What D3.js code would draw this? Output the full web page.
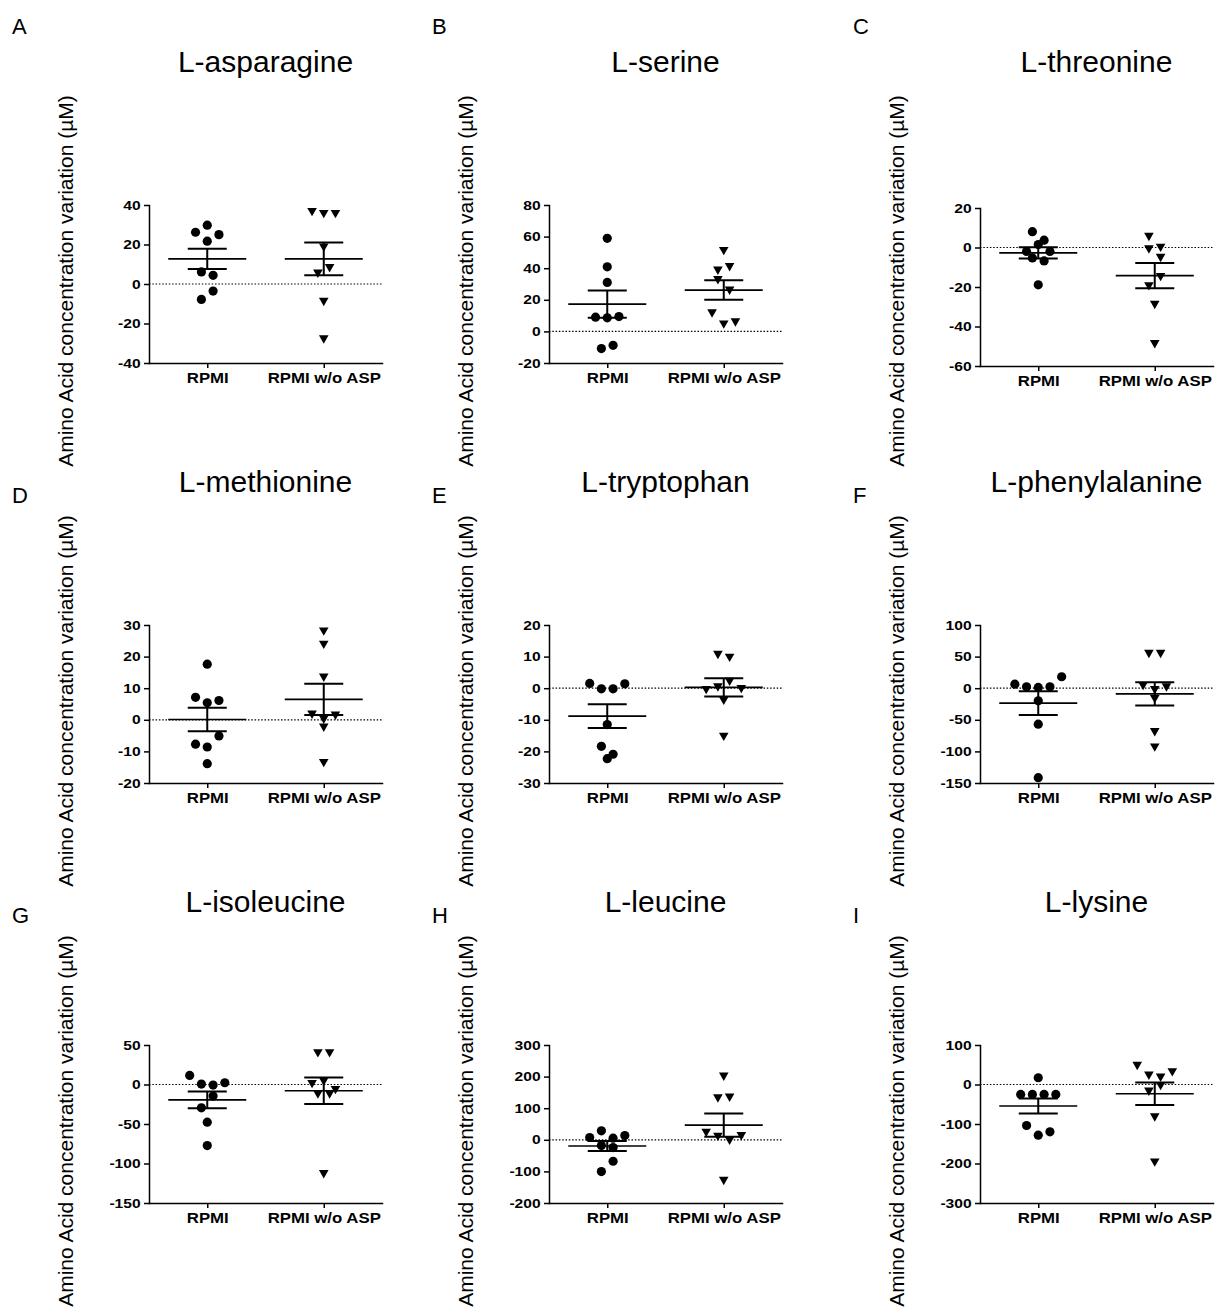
<!DOCTYPE html>
<html>
<head>
<meta charset="utf-8">
<title>Amino acid variation</title>
<style>
    body { margin: 0; background: #fff; }
    svg text { font-family: "Liberation Sans", Arial, sans-serif; fill: #000; }
    .title { font-size: 30px; }
    .letter { font-size: 22px; }
    .ylabel { font-size: 21px; }
    .axis text { font-size: 13px; font-weight: bold; }
    .axis.x text { font-size: 14px; }
    .axis path, .axis line { stroke: #000; stroke-width: 1.5px; }
</style>
</head>
<body>
<script src="https://d3js.org/d3.v7.min.js"></script>
<script>
// categories and panel texts
var groups = ["RPMI", "RPMI w/o ASP"];
var letters = ["A", "B", "C", "D", "E", "F", "G", "H", "I"];
var titles = ["L-asparagine", "L-serine", "L-threonine",
              "L-methionine", "L-tryptophan", "L-phenylalanine",
              "L-isoleucine", "L-leucine", "L-lysine"];
var yLabel = "Amino Acid concentration variation (\u00b5M)";

// y axis domain and tick labels per panel
var yDomains = [[-40, 40], [-20, 80], [-60, 20],
                [-20, 30], [-30, 20], [-150, 100],
                [-150, 50], [-200, 300], [-300, 100]];
var yTicks = [[-40, -20, 0, 20, 40], [-20, 0, 20, 40, 60, 80], [-60, -40, -20, 0, 20],
              [-20, -10, 0, 10, 20, 30], [-30, -20, -10, 0, 10, 20], [-150, -100, -50, 0, 50, 100],
              [-150, -100, -50, 0, 50], [-200, -100, 0, 100, 200, 300], [-300, -200, -100, 0, 100]];

// individual values, RPMI group
var rpmi = [
    [26.2, 29.8, 25.0, 21.7, 6.1, 4.4, -7.8, -3.6],
    [58.9, 40.9, 31.0, 9.0, 8.6, 9.4, -10.9, -8.8],
    [8.0, 3.7, -2.0, 1.5, -2.0, -5.3, -6.8, -18.9],
    [17.6, 7.1, 5.4, 6.1, -7.7, -8.6, -5.1, -13.9],
    [1.5, -0.2, -0.2, 1.4, -11.5, -22.3, -18.4, -20.9],
    [6.4, 2.2, 1.2, 2.2, 18.1, -20.0, -57.0, -141.5],
    [11.5, 0.5, -0.7, 2.2, -29.5, -14.7, -47.7, -77.3],
    [7.2, 28.3, 5.1, 13.5, -18.2, -24.5, -100.6, -67.9],
    [17.1, -25.2, -25.2, -25.2, -25.2, -103.8, -128.3, -119.9]
];

// RPMI w/o ASP group
var noAsp = [
    [36.4, 35.4, 35.4, 18.4, 5.2, 8.0, -9.1, -28.1],
    [50.8, 38.4, 40.6, 32.4, 25.7, 11.3, 4.3, 5.6],
    [5.3, -0.2, -1.0, -5.3, -19.7, -15.0, -29.1, -49.0],
    [27.9, 23.7, 13.3, 1.6, 0.0, 1.3, -2.5, -13.7],
    [10.5, 9.6, -0.6, 0.2, 2.0, -0.3, -4.0, -15.4],
    [54.0, 54.0, 3.3, -3.1, 1.2, -17.3, -69.7, -94.0],
    [39.4, 39.4, 0.5, 3.5, -7.1, -12.6, -12.6, -113.6],
    [199.6, 130.9, 133.0, 22.0, 9.3, -3.4, 11.4, -130.2],
    [46.7, 22.2, 17.1, 30.7, -18.4, -4.0, -83.5, -197.7]
];

var width = 1222, height = 1311;
var plotW = 233, plotH = 158;
var colX = [149, 549, 980];
var letterX = [12, 432, 853];
var letterY = [34, 503, 923];

var svg = d3.select("body").append("svg")
    .attr("width", width)
    .attr("height", height);

// spread points of similar value side by side, rows centred like Prism does
function spread(values, y) {
    var order = values.map(function(v, k) { return k; })
        .sort(function(a, b) { return values[b] - values[a]; });
    var rows = [], cur = null;
    order.forEach(function(k) {
        if (cur && y(values[k]) - y(values[cur[0]]) < 12) cur.push(k);
        else { cur = [k]; rows.push(cur); }
    });
    var off = [];
    rows.forEach(function(r) {
        r.sort(d3.ascending);
        r.forEach(function(k, j) { off[k] = (j - (r.length - 1) / 2) * 11.7; });
    });
    return off;
}

titles.forEach(function(t, i) {
    var col = i % 3, row = Math.floor(i / 3);
    var left = colX[col], top = 205 + row * 420 + (i === 2 ? 3 : 0);

    svg.append("text").attr("class", "letter")
        .attr("x", letterX[col]).attr("y", letterY[row])
        .text(letters[i]);

    svg.append("text").attr("class", "title")
        .attr("x", left + plotW / 2).attr("y", 72 + row * 420)
        .attr("text-anchor", "middle")
        .text(t);

    svg.append("text").attr("class", "ylabel")
        .attr("transform", "translate(" + (left - 76) + "," + (281 + row * 420) + ") rotate(-90)")
        .attr("text-anchor", "middle")
        .text(yLabel);

    var g = svg.append("g").attr("transform", "translate(" + left + "," + top + ")");

    var y = d3.scaleLinear().domain(yDomains[i]).range([plotH, 0]);
    var x = d3.scalePoint().domain(groups).range([0, plotW]).padding(0.5);

    // dotted zero line
    g.append("line")
        .attr("x1", 0).attr("x2", plotW)
        .attr("y1", y(0)).attr("y2", y(0))
        .attr("stroke", "#000").attr("stroke-width", 1.2)
        .attr("stroke-dasharray", "1.5,1.8");

    g.append("g").attr("class", "axis y")
        .call(d3.axisLeft(y).tickValues(yTicks[i]).tickSize(5).tickSizeOuter(0).tickPadding(2)
            .tickFormat(function(d) { return String(d); }));

    g.append("g").attr("class", "axis x")
        .attr("transform", "translate(0," + plotH + ")")
        .call(d3.axisBottom(x).tickSize(5).tickSizeOuter(0).tickPadding(5));
    g.selectAll(".axis path").attr("stroke-linecap", "square");
    // the printed figure is a little wider than tall: stretch tick text the same way
    g.selectAll(".axis text").attr("transform", "scale(1.2,1)");

    [rpmi[i], noAsp[i]].forEach(function(vals, gi) {
        var cx = x(groups[gi]);
        var off = spread(vals, y);
        var pts = g.append("g").selectAll("path").data(vals).enter();
        if (gi === 0) {
            pts.append("circle")
                .attr("cx", function(d, k) { return cx + off[k]; })
                .attr("cy", function(d) { return y(d); })
                .attr("r", 4.6)
                .attr("fill", "#000");
        } else {
            pts.append("path")
                .attr("d", "M-4.8,-4.2L4.8,-4.2L0,4.2Z")
                .attr("transform", function(d, k) { return "translate(" + (cx + off[k]) + "," + y(d) + ")"; })
                .attr("fill", "#000");
        }

        var m = d3.mean(vals);
        var sem = d3.deviation(vals) / Math.sqrt(vals.length);
        var eg = g.append("g").attr("stroke", "#000");
        eg.append("line")
            .attr("x1", cx - 39).attr("x2", cx + 39)
            .attr("y1", y(m)).attr("y2", y(m))
            .attr("stroke-width", 1.6);
        eg.append("line")
            .attr("x1", cx).attr("x2", cx)
            .attr("y1", y(m - sem)).attr("y2", y(m + sem))
            .attr("stroke-width", 2);
        [m - sem, m + sem].forEach(function(v) {
            eg.append("line")
                .attr("x1", cx - 19.5).attr("x2", cx + 19.5)
                .attr("y1", y(v)).attr("y2", y(v))
                .attr("stroke-width", 2);
        });
    });
});
</script>
</body>
</html>
